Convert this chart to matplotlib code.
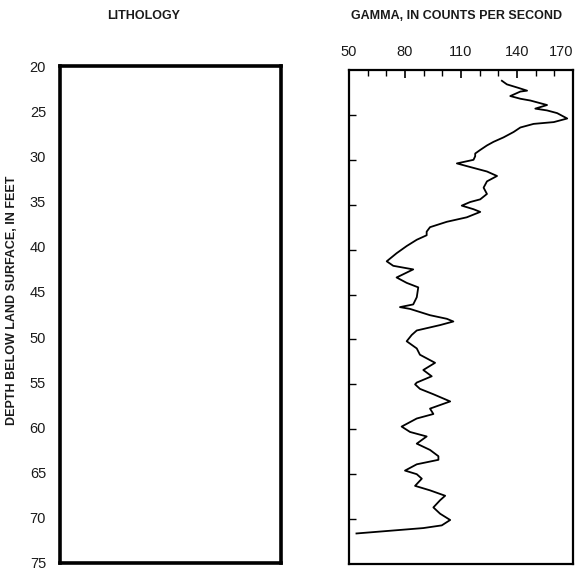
import matplotlib.pyplot as plt
from matplotlib.ticker import MultipleLocator
import numpy as np

plt.rcParams['font.family'] = ['Liberation Sans', 'DejaVu Sans']

# gamma log read down the hole: depth (ft) and counts per second
depth_ft = [21.2, 21.6, 22.0, 22.3, 22.4, 22.9, 23.2, 23.4, 23.9, 24.3, 24.5, 24.8,
            25.4, 25.8, 26.0, 26.4, 26.9, 27.5, 28.0, 28.4, 28.9, 29.3, 29.6, 30.0,
            30.4, 30.7, 31.3, 31.8, 32.4, 33.1, 33.8, 34.4, 34.7, 35.1, 35.5, 35.8,
            36.4, 36.9, 37.5, 38.0, 38.4, 38.9, 39.6, 40.4, 41.3, 41.8, 42.2, 43.1,
            43.7, 44.2, 45.3, 46.1, 46.4, 46.6, 47.3, 47.7, 48.0, 48.4, 49.0, 49.5,
            50.2, 51.0, 51.7, 52.6, 53.4, 54.1, 54.8, 55.0, 55.5, 56.1, 56.9, 57.7,
            58.3, 58.8, 59.7, 60.3, 60.8, 61.6, 62.3, 63.0, 63.4, 63.9, 64.6, 65.0,
            65.5, 66.3, 66.8, 67.4, 67.9, 68.7, 69.4, 70.1, 70.7, 71.0, 71.6]
gamma_cps = [131.9, 134.6, 140.9, 145.4, 141.8, 136.4, 141.8, 147.2, 156.1, 149.8, 156.1, 161.5,
             166.9, 159.7, 148.9, 141.8, 138.2, 132.8, 127.4, 123.9, 120.3, 117.6, 117.6, 116.7,
             107.8, 113.1, 123.9, 129.3, 123.9, 122.1, 123.9, 120.3, 114.9, 110.4, 116.7, 120.3,
             113.1, 102.4, 93.4, 91.6, 91.6, 86.3, 80.9, 75.5, 70.2, 73.7, 84.4, 75.5,
             80.9, 87.1, 86.3, 84.4, 77.3, 82.7, 93.4, 102.4, 105.9, 98.8, 86.3, 83.6,
             80.9, 86.3, 88.0, 96.1, 89.8, 94.3, 86.3, 85.4, 88.0, 95.2, 104.2, 93.4,
             95.2, 86.3, 78.2, 82.7, 91.6, 86.3, 93.4, 97.9, 97.9, 86.3, 80.0, 86.3,
             89.0, 85.4, 93.4, 101.5, 98.8, 95.2, 98.8, 104.2, 99.7, 89.8, 54.0]

depth_ticks = [20, 25, 30, 35, 40, 45, 50, 55, 60, 65, 70, 75]
gamma_ticks = [50, 80, 110, 140, 170]

text_color = '#1a1a1a'
W, H = 586, 571
fig = plt.figure(figsize=(W / 100, H / 100), dpi=100)

# lithology column (empty box with depth scale)
ax1 = fig.add_axes([60 / W, (H - 563) / H, 221 / W, 497 / H])
ax1.set_ylim(75, 20)
ax1.set_xlim(0, 1)
ax1.set_xticks([])
ax1.set_yticks(depth_ticks)
ax1.tick_params(axis='y', length=0, pad=10, labelsize=10.5, labelcolor=text_color)
for s in ax1.spines.values():
    s.set_linewidth(2.6)
    s.set_color('black')
fig.text(12 / W, 1 - 300 / H, 'DEPTH BELOW LAND SURFACE, IN FEET', rotation=90,
         ha='center', va='center', fontsize=9, fontweight='bold', color=text_color)
fig.text(144 / W, 1 - 16 / H, 'LITHOLOGY', ha='center', va='center',
         fontsize=9, fontweight='bold', color=text_color)

# gamma log panel
ax2 = fig.add_axes([349 / W, (H - 564) / H, 224 / W, 494 / H])
ax2.plot(gamma_cps, depth_ft, color='black', linewidth=1.3)
ax2.set_xlim(50, 170)
ax2.set_ylim(75, 20)
ax2.xaxis.set_ticks_position('top')
ax2.set_xticks(gamma_ticks)
ax2.xaxis.set_minor_locator(MultipleLocator(10))
ax2.tick_params(axis='x', which='major', direction='in', length=6, width=1.2,
                pad=8, labelsize=10.5, labelcolor=text_color)
ax2.tick_params(axis='x', which='minor', direction='in', length=4, width=1.0)
ax2.set_yticks(depth_ticks[1:-1])
ax2.set_yticklabels([])
ax2.tick_params(axis='y', direction='in', length=5, width=1.0)
for s in ax2.spines.values():
    s.set_linewidth(1.6)
    s.set_color('black')
ax2.get_xticklabels()[-1].set_horizontalalignment('right')
fig.text(457 / W, 1 - 16 / H, 'GAMMA, IN COUNTS PER SECOND', ha='center', va='center',
         fontsize=9, fontweight='bold', color=text_color)

fig.savefig('out.png', dpi=100)
